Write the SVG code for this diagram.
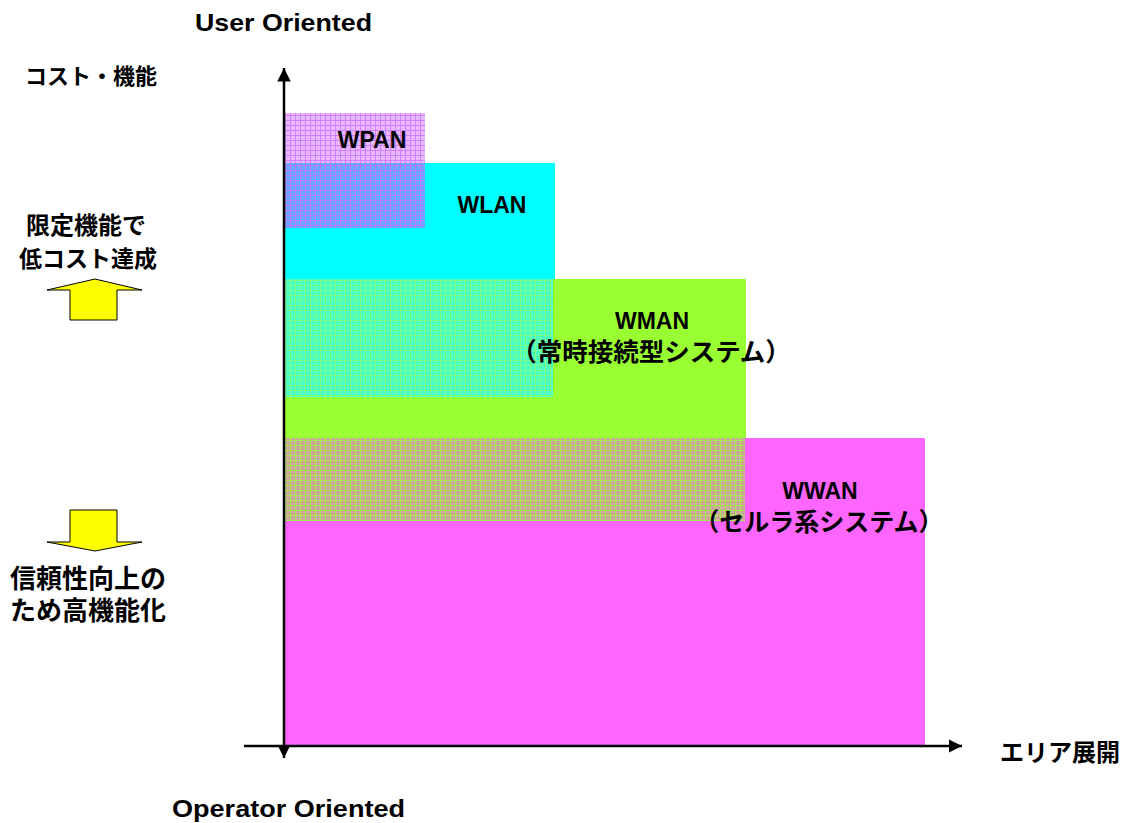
<svg xmlns="http://www.w3.org/2000/svg" width="1131" height="823" viewBox="0 0 1131 823">
<style>
.lat{font-family:"Liberation Sans",Arial,sans-serif;font-weight:bold;fill:#000}
.jp{font-family:"Liberation Sans","Noto Sans CJK JP",sans-serif;font-weight:bold;fill:#000}
.ax{stroke:#000;stroke-width:2.5;fill:none}
.yarrow{fill:#FFFF00;stroke:#000;stroke-width:1}
</style>
<defs>
<pattern id="pPAN" width="5" height="5" patternUnits="userSpaceOnUse">
<rect width="5" height="5" fill="#E8B8FF"/><path d="M0 0.5H5M0.5 0V5" stroke="#D080FF" stroke-width="1"/>
</pattern>
<pattern id="pPANLAN" width="5" height="5" patternUnits="userSpaceOnUse">
<rect width="5" height="5" fill="#6AA8FF"/><path d="M0 0.5H5M0.5 0V5" stroke="#B878FF" stroke-width="1"/>
</pattern>
<pattern id="pLANMAN" width="5" height="5" patternUnits="userSpaceOnUse">
<rect width="5" height="5" fill="#48FFC4"/><path d="M0 0.5H5M0.5 0V5" stroke="#7CFF88" stroke-width="1"/>
</pattern>
<pattern id="pMANWAN" width="5" height="5" patternUnits="userSpaceOnUse">
<rect width="5" height="5" fill="#CCA89C"/><path d="M0 0.5H5M0.5 0V5" stroke="#A8E850" stroke-width="1"/>
</pattern>
<marker id="ah" viewBox="0 0 10 10" refX="10" refY="5" markerWidth="5.4" markerHeight="5.4" orient="auto-start-reverse" markerUnits="strokeWidth">
<path d="M0 0L10 5L0 10Z" fill="#000"/>
</marker>
</defs>
<rect width="1131" height="823" fill="#fff"/>

<g id="WWAN">
<rect x="284" y="438" width="641" height="308" fill="#FF66FF"/>
</g>
<g id="WMAN">
<rect x="284" y="279" width="462" height="159" fill="#99FF33"/>
<rect x="284" y="438" width="461" height="83" fill="url(#pMANWAN)"/>
</g>
<g id="WLAN">
<rect x="284" y="163" width="271" height="116" fill="#00FFFF"/>
<rect x="284" y="279" width="269" height="118" fill="url(#pLANMAN)"/>
</g>
<g id="WPAN">
<rect x="284" y="113" width="141" height="50" fill="url(#pPAN)"/>
<rect x="284" y="163" width="141" height="65" fill="url(#pPANLAN)"/>
</g>

<g id="WPAN-label"><text class="lat" x="372" y="148" font-size="23" text-anchor="middle">WPAN</text></g>
<g id="WLAN-label"><text class="lat" x="492" y="213" font-size="23" text-anchor="middle">WLAN</text></g>
<g id="WMAN-label">
<text class="lat" x="652" y="329" font-size="23" text-anchor="middle">WMAN</text>
<text class="jp" x="651" y="361" font-size="25.5" text-anchor="middle">（常時接続型システム）</text>
</g>
<g id="WWAN-label">
<text class="lat" x="820" y="499" font-size="23" text-anchor="middle">WWAN</text>
<text class="jp" x="819" y="531" font-size="25" text-anchor="middle">（セルラ系システム）</text>
</g>

<g id="connectors">
<line class="ax" x1="284" y1="758" x2="284" y2="68" marker-start="url(#ah)" marker-end="url(#ah)"/>
<line class="ax" x1="244" y1="746" x2="962" y2="746" marker-end="url(#ah)"/>
</g>

<g id="up-arrow">
<polygon class="yarrow" points="95,279 142,290 117,290 117,320 70,320 70,290 47,290"/>
<text class="jp" x="86" y="234" font-size="24" text-anchor="middle">限定機能で</text>
<text class="jp" x="88" y="267" font-size="23" text-anchor="middle">低コスト達成</text>
</g>
<g id="down-arrow">
<polygon class="yarrow" points="70,510 117,510 117,542 142,542 95,551 47,542 70,542"/>
<text class="jp" x="88" y="588" font-size="26" text-anchor="middle">信頼性向上の</text>
<text class="jp" x="88" y="620" font-size="26" text-anchor="middle">ため高機能化</text>
</g>

<g id="labels">
<text class="lat" x="195" y="31" font-size="24" textLength="177" lengthAdjust="spacingAndGlyphs">User Oriented</text>
<text class="jp" x="25" y="84" font-size="22">コスト・機能</text>
<text class="jp" x="1000" y="761" font-size="24">エリア展開</text>
<text class="lat" x="172" y="817" font-size="24" textLength="233" lengthAdjust="spacingAndGlyphs">Operator Oriented</text>
</g>
</svg>
